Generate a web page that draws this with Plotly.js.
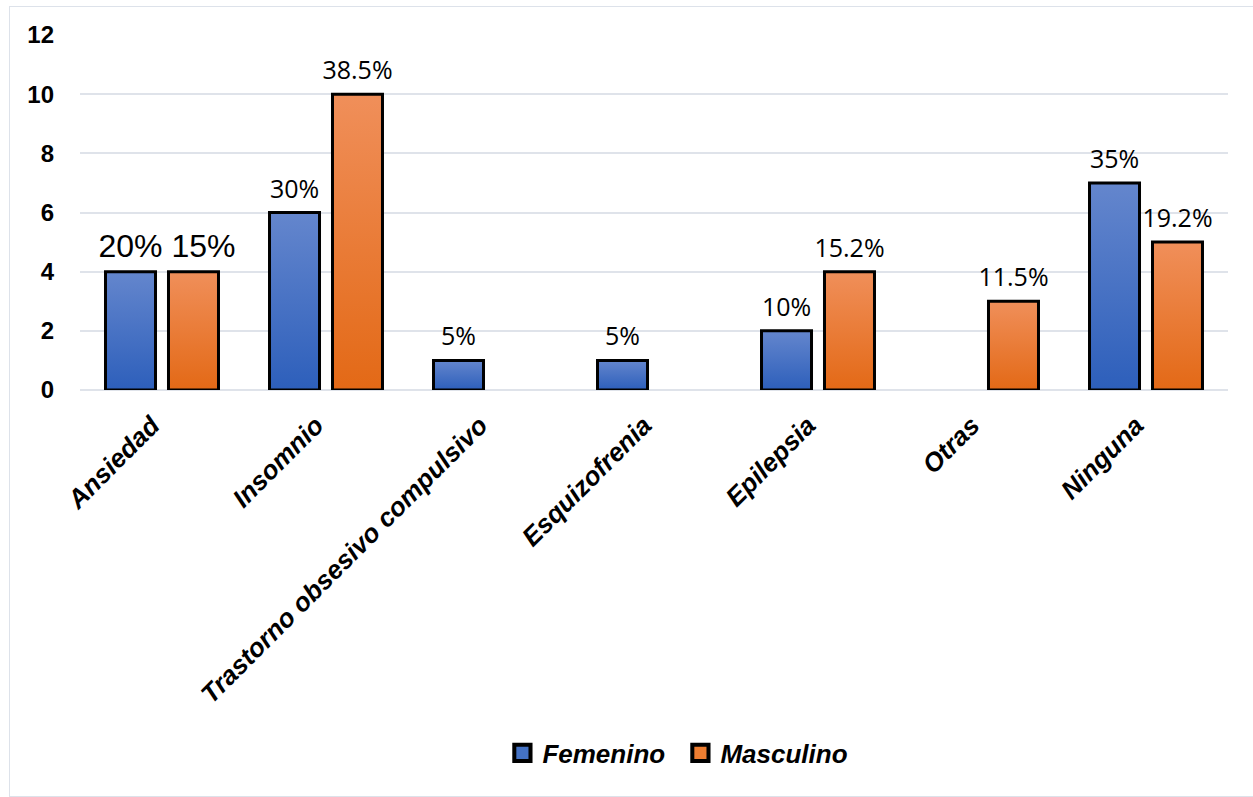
<!DOCTYPE html>
<html>
<head>
<meta charset="utf-8">
<script src="https://cdn.plot.ly/plotly-3.0.1.min.js"></script>
<style>
  html, body { margin: 0; padding: 0; background: #ffffff; }
  #wrap { position: relative; width: 1253px; height: 797px; overflow: hidden; }
  #chart { position: absolute; left: 0; top: 0; width: 1253px; height: 797px; }
  #frame { position: absolute; left: 9px; top: 6px; width: 1260px; height: 789px;
           border: 1px solid #dde2ea; pointer-events: none; }
</style>
</head>
<body>
<div id="wrap">
  <div id="chart"></div>
  <div id="frame"></div>
</div>
<script>
// Categories and counts per sex
const categories = ['Ansiedad', 'Insomnio', 'Trastorno obsesivo compulsivo', 'Esquizofrenia', 'Epilepsia', 'Otras', 'Ninguna'];
const femenino = [4, 6, 1, 1, 2, null, 7];
const masculino = [4, 10, null, null, 4, 3, 5];
const femeninoPct = ['20%', '30%', '5%', '5%', '10%', '', '35%'];
const masculinoPct = ['15%', '38.5%', '', '', '15.2%', '11.5%', '19.2%'];
const yTicks = [0, 2, 4, 6, 8, 10, 12];

// The first group's labels are set larger, in a different face
const labelSizes = categories.map((c, i) => i === 0 ? 32 : 25);
const labelFamilies = categories.map((c, i) => i === 0 ? 'Liberation Sans, Arial, sans-serif' : 'Open Sans, sans-serif');

function barTrace(name, values, labels, color) {
  return {
    type: 'bar',
    name: name,
    x: categories,
    y: values,
    text: labels,
    textposition: 'outside',
    texttemplate: '%{text}',
    constraintext: 'none',
    cliponaxis: false,
    textfont: { size: labelSizes, family: labelFamilies, color: '#000000' },
    marker: { color: color, line: { color: '#000000', width: 3 } },
    hoverinfo: 'x+y'
  };
}

const data = [
  barTrace('Femenino', femenino, femeninoPct, '#4472c4'),
  barTrace('Masculino', masculino, masculinoPct, '#ed7d31')
];

const layout = {
  width: 1253,
  height: 797,
  margin: { l: 80, r: 25, t: 35, b: 407 },
  paper_bgcolor: 'rgba(0,0,0,0)',
  plot_bgcolor: 'rgba(0,0,0,0)',
  barmode: 'group',
  bargap: 0.232,
  bargroupgap: 0.206,
  showlegend: true,
  legend: {
    orientation: 'h',
    x: 0.523, xanchor: 'center',
    y: -1.0225, yanchor: 'middle',
    itemwidth: 30,
    entrywidth: 133,
    font: { family: 'Liberation Sans, Arial, sans-serif', size: 26, weight: 'bold', style: 'italic', color: '#000000' },
    itemclick: false, itemdoubleclick: false
  },
  xaxis: {
    type: 'category',
    range: [-0.5, 6.5],
    tickangle: -45,
    ticks: '',
    ticklabelstandoff: 14,
    ticklabelshift: -10,
    showgrid: false,
    showline: false,
    zeroline: false,
    tickfont: { family: 'Liberation Sans, Arial, sans-serif', size: 26, weight: 'bold', style: 'italic', color: '#000000' }
  },
  yaxis: {
    range: [0, 12],
    tickvals: yTicks,
    ticktext: yTicks.map(String),
    ticks: '',
    ticklabelstandoff: 25,
    showgrid: true,
    gridcolor: '#dfe3ea',
    gridwidth: 2,
    zeroline: true,
    zerolinecolor: '#dfe3ea',
    zerolinewidth: 2,
    showline: false,
    tickfont: { family: 'Liberation Sans, Arial, sans-serif', size: 24, weight: 'bold', color: '#000000' }
  }
};

// Vertical gradients for the bar bodies (lighter at the top)
const gradients = [
  { id: 'gradFem', top: '#6486cd', bottom: '#2d5fbb' },
  { id: 'gradMas', top: '#f08f5a', bottom: '#e36916' }
];

Plotly.newPlot('chart', data, layout, { displayModeBar: false, staticPlot: true }).then(function (gd) {
  const svg = gd.querySelector('.main-svg');
  const ns = 'http://www.w3.org/2000/svg';
  let defs = svg.querySelector('defs');
  if (!defs) { defs = document.createElementNS(ns, 'defs'); svg.insertBefore(defs, svg.firstChild); }
  gradients.forEach(function (g) {
    const lg = document.createElementNS(ns, 'linearGradient');
    lg.setAttribute('id', g.id);
    lg.setAttribute('x1', '0'); lg.setAttribute('y1', '0');
    lg.setAttribute('x2', '0'); lg.setAttribute('y2', '1');
    const s1 = document.createElementNS(ns, 'stop');
    s1.setAttribute('offset', '0'); s1.setAttribute('stop-color', g.top);
    const s2 = document.createElementNS(ns, 'stop');
    s2.setAttribute('offset', '1'); s2.setAttribute('stop-color', g.bottom);
    lg.appendChild(s1); lg.appendChild(s2);
    defs.appendChild(lg);
  });
  const traces = gd.querySelectorAll('.barlayer .trace.bars');
  traces.forEach(function (t, i) {
    t.querySelectorAll('.point path').forEach(function (p) {
      p.style.fill = 'url(#' + gradients[i].id + ')';
    });
    // lift the value labels a little further off the bar tops;
    // the first Masculino label is nudged right so the large pair stays apart
    t.querySelectorAll('.point').forEach(function (pt, j) {
      const tx = pt.querySelector('text.bartext');
      if (!tx) return;
      const dx = (i === 1 && j === 0) ? 10 : 0;
      const tr = tx.getAttribute('transform') || '';
      tx.setAttribute('transform', 'translate(' + dx + ',-5) ' + tr);
    });
  });
  // larger legend swatches
  gd.querySelectorAll('.legend .legendpoints path').forEach(function (p) {
    const tr = p.getAttribute('transform') || '';
    p.setAttribute('transform', tr + ' scale(1.35)');
  });
});
</script>
</body>
</html>
